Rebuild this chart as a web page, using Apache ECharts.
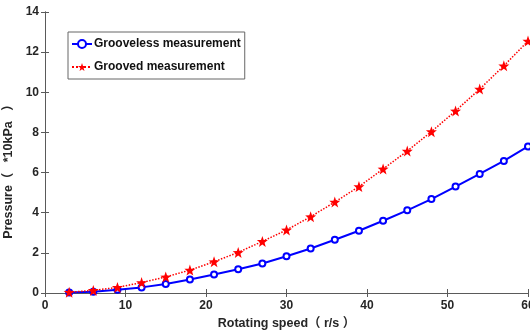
<!DOCTYPE html>
<html>
<head>
<meta charset="utf-8">
<script src="https://cdn.jsdelivr.net/npm/echarts@6/dist/echarts.min.js"></script>
<style>
  html, body { margin: 0; padding: 0; background: #fff; }
  #chart { width: 530px; height: 331px; }
</style>
</head>
<body>
<div id="chart"></div>
<script>
// rotating speed (r/s)
const speeds = [3, 6, 9, 12, 15, 18, 21, 24, 27, 30, 33, 36, 39, 42, 45, 48, 51, 54, 57, 60];
// pressure (*10kPa)
const groovelessValues = [0.02, 0.06, 0.16, 0.28, 0.45, 0.67, 0.92, 1.18, 1.47, 1.83, 2.22, 2.65, 3.1, 3.6, 4.12, 4.68, 5.3, 5.93, 6.58, 7.3];
const groovedValues = [0.04, 0.13, 0.28, 0.52, 0.8, 1.14, 1.56, 2.02, 2.57, 3.14, 3.8, 4.53, 5.3, 6.18, 7.07, 8.04, 9.07, 10.16, 11.32, 12.55];

const textColor = "#262626";
const axisColor = "#5a5a5a";
const fontFamily = "'Liberation Sans', 'Noto Sans CJK SC', sans-serif";
const labelFont = { color: textColor, fontWeight: "bold", fontSize: 12, fontFamily: fontFamily };
const nameFont = { color: textColor, fontWeight: "bold", fontSize: 12.5, fontFamily: fontFamily };

// five point star symbol
function starPath() {
  const pts = [];
  for (let i = 0; i < 10; i++) {
    const r = i % 2 === 0 ? 10 : 4;
    const a = (-90 + i * 36) * Math.PI / 180;
    pts.push((10 + r * Math.cos(a)).toFixed(2) + " " + (10 + r * Math.sin(a)).toFixed(2));
  }
  return "path://M" + pts.join(" L") + " Z";
}

const chart = echarts.init(document.getElementById("chart"), null, { renderer: "canvas" });

const boxAxis = {
  axisLine: { show: true, lineStyle: { color: axisColor, width: 1 } },
  axisTick: { show: true, inside: true, length: 4, lineStyle: { color: axisColor } },
  splitLine: { show: false },
};

chart.setOption({
  animation: false,
  backgroundColor: "#fff",
  grid: { left: 45, right: 2, top: 12, bottom: 38, outerBoundsMode: "none", containLabel: false },
  legend: {
    orient: "vertical",
    left: 68,
    top: 32,
    padding: [6, 4, 6, 3],
    itemGap: 11,
    itemWidth: 20,
    itemHeight: 10,
    borderColor: "#666",
    borderWidth: 1,
    borderRadius: 0,
    backgroundColor: "#fff",
    textStyle: { color: "#111", fontWeight: "bold", fontSize: 12, fontFamily: fontFamily, padding: [0, 0, 0, -3] },
    data: ["Grooveless measurement", "Grooved measurement"],
  },
  xAxis: [
    {
      type: "value",
      min: 0,
      max: 60,
      interval: 10,
      name: "Rotating speed（ r/s ）",
      nameLocation: "middle",
      nameGap: 22,
      nameTextStyle: nameFont,
      axisLabel: Object.assign({ margin: 7 }, labelFont),
      ...boxAxis,
    },
    {
      type: "value",
      position: "top",
      min: 0,
      max: 60,
      interval: 10,
      axisLabel: { show: false },
      ...boxAxis,
    },
  ],
  yAxis: [
    {
      type: "value",
      min: 0,
      max: 14,
      interval: 2,
      name: "Pressure（   *10kPa   ）",
      nameLocation: "middle",
      nameGap: 27,
      nameTextStyle: Object.assign({ padding: [0, 32, 0, 0] }, nameFont),
      axisLabel: Object.assign({ margin: 6 }, labelFont),
      ...boxAxis,
    },
    {
      type: "value",
      position: "right",
      min: 0,
      max: 14,
      interval: 2,
      axisLabel: { show: false },
      ...boxAxis,
    },
  ],
  series: [
    {
      name: "Grooveless measurement",
      type: "line",
      data: speeds.map((s, i) => [s, groovelessValues[i]]),
      symbol: "emptyCircle",
      symbolSize: 6,
      showAllSymbol: true,
      z: 3,
      lineStyle: { color: "#0000ff", width: 2 },
      itemStyle: { color: "#0000ff", borderColor: "#0000ff", borderWidth: 1.5 },
    },
    {
      name: "Grooved measurement",
      type: "line",
      data: speeds.map((s, i) => [s, groovedValues[i]]),
      symbol: starPath(),
      symbolSize: 11,
      showAllSymbol: true,
      z: 4,
      lineStyle: { color: "#ff0000", width: 1.5, type: "dotted" },
      itemStyle: { color: "#ff0000", borderWidth: 0 },
    },
  ],
});
</script>
</body>
</html>
